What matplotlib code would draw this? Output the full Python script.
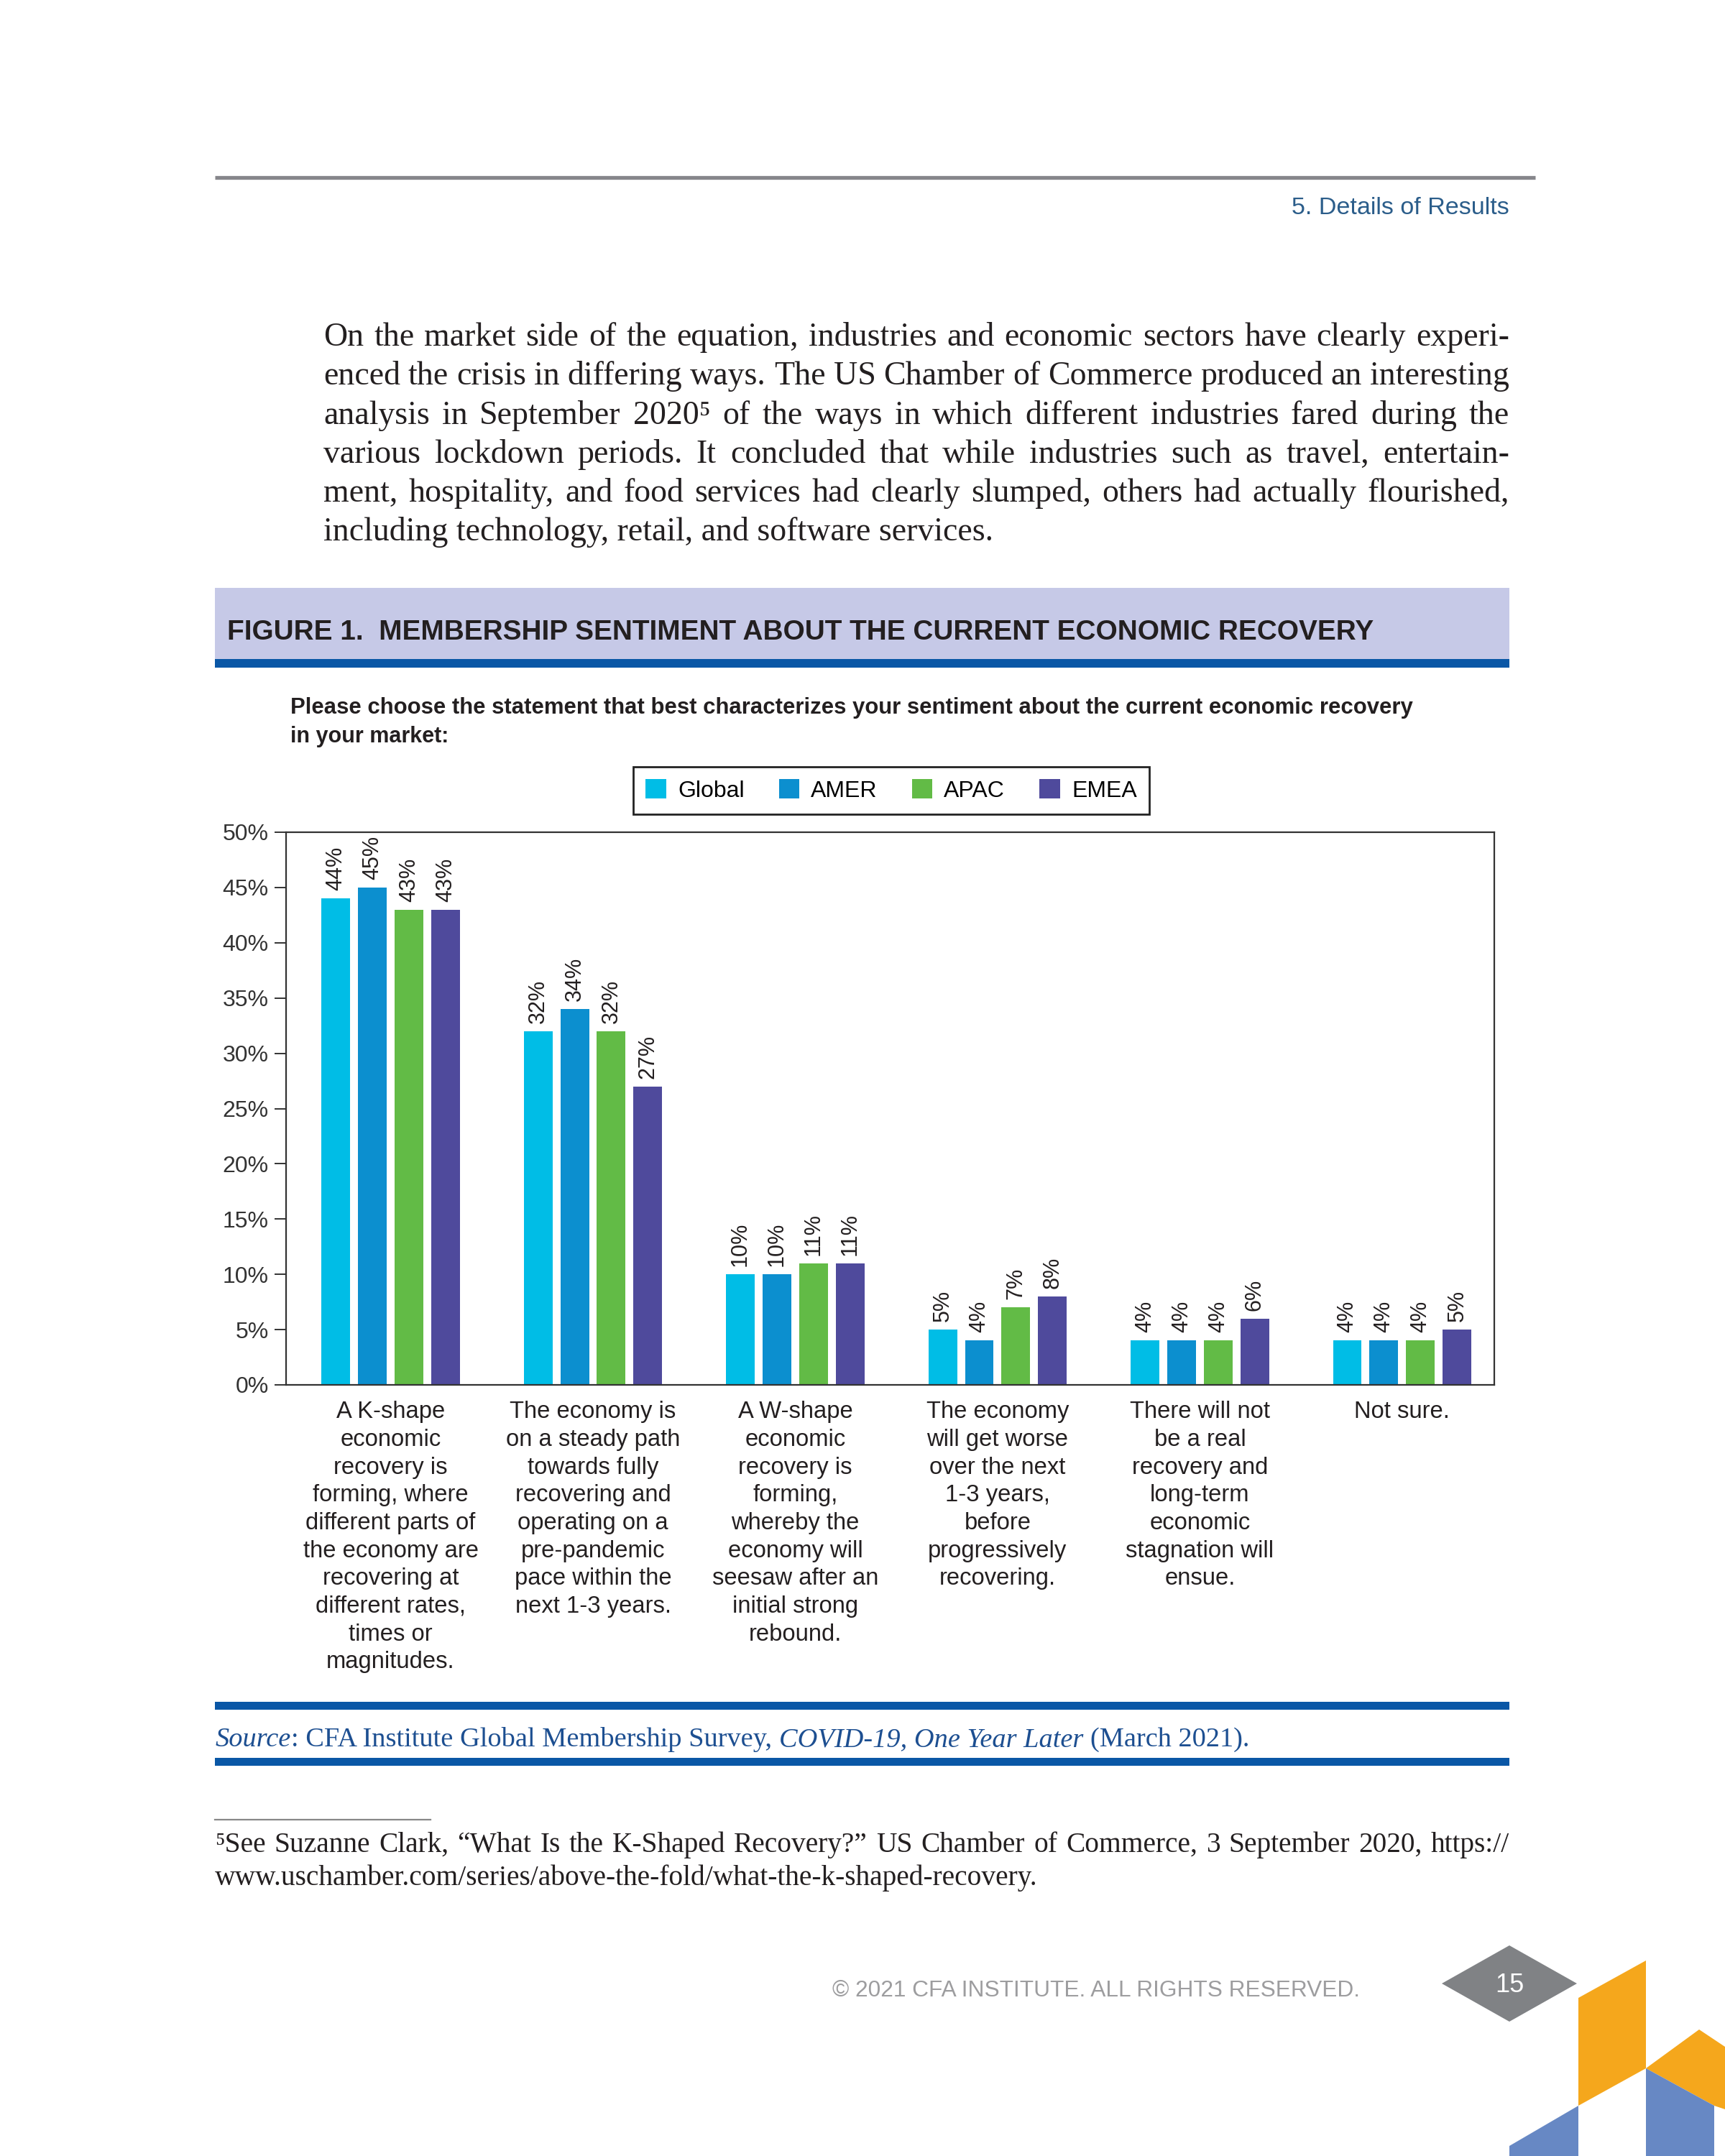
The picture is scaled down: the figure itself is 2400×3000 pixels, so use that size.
import matplotlib.pyplot as plt
from matplotlib.patches import Polygon, Rectangle
import numpy as np

# survey data (percent)
categories = [
    "A K-shape\neconomic\nrecovery is\nforming, where\ndifferent parts of\nthe economy are\nrecovering at\ndifferent rates,\ntimes or\nmagnitudes.",
    "The economy is\non a steady path\ntowards fully\nrecovering and\noperating on a\npre-pandemic\npace within the\nnext 1-3 years.",
    "A W-shape\neconomic\nrecovery is\nforming,\nwhereby the\neconomy will\nseesaw after an\ninitial strong\nrebound.",
    "The economy\nwill get worse\nover the next\n1-3 years,\nbefore\nprogressively\nrecovering.",
    "There will not\nbe a real\nrecovery and\nlong-term\neconomic\nstagnation will\nensue.",
    "Not sure.",
]
regions = ["Global", "AMER", "APAC", "EMEA"]
global_vals = [44, 32, 10, 5, 4, 4]
amer_vals = [45, 34, 10, 4, 4, 4]
apac_vals = [43, 32, 11, 7, 4, 4]
emea_vals = [43, 27, 11, 8, 6, 5]
yticks = [0, 5, 10, 15, 20, 25, 30, 35, 40, 45, 50]

body_lines = [
    "On the market side of the equation, industries and economic sectors have clearly experi-",
    "enced the crisis in differing ways. The US Chamber of Commerce produced an interesting",
    "analysis in September 2020\u2075 of the ways in which different industries fared during the",
    "various lockdown periods. It concluded that while industries such as travel, entertain-",
    "ment, hospitality, and food services had clearly slumped, others had actually flourished,",
    "including technology, retail, and software services.",
]
foot_lines = [
    "\u2075See Suzanne Clark, \u201cWhat Is the K-Shaped Recovery?\u201d US Chamber of Commerce, 3 September 2020, https://",
    "www.uschamber.com/series/above-the-fold/what-the-k-shaped-recovery.",
]

colors = ["#00bde6", "#0c8fcf", "#62bb46", "#4f4a9c"]
SERIF = ["Liberation Serif", "DejaVu Serif"]
NARROW = ["Liberation Sans Narrow", "Liberation Sans", "DejaVu Sans"]
SANS = ["Liberation Sans", "DejaVu Sans"]
INK = "#231f20"

W, H = 2400, 3000
fig = plt.figure(figsize=(12, 15), dpi=200)
r = fig.canvas.get_renderer()

# page layer, data units = pixels
bg = fig.add_axes([0, 0, 1, 1])
bg.set_xlim(0, W)
bg.set_ylim(H, 0)
bg.axis("off")


def width(s, **kw):
    t = bg.text(0, 0, s, **kw)
    w = t.get_window_extent(r).width
    t.remove()
    return w


def put(x, y, s, fit=None, **kw):
    t = bg.text(x, y, s, **kw)
    if fit:
        w = t.get_window_extent(r).width
        t.set_fontsize(t.get_fontsize() * fit / w)
    return t


def justify(x0, x1, y, line, **kw):
    words = line.split()
    ws = [width(w_, **kw) for w_ in words]
    gap = (x1 - x0 - sum(ws)) / (len(words) - 1)
    x = x0
    for w_, wd in zip(words, ws):
        bg.text(x, y, w_, va="baseline", **kw)
        x += wd + gap


def run(x, y, pieces, **kw):
    sp = width("a a", **kw) - width("aa", **kw)
    for s, style in pieces:
        if s.startswith(" "):
            x += sp
            s = s[1:]
        t = bg.text(x, y, s, va="baseline", fontstyle=style, **kw)
        x += t.get_window_extent(r).width


# header
bg.plot([299, 2136], [247, 247], color="#86868b", lw=1.9, solid_capstyle="butt")
put(2100, 298, "5. Details of Results", fit=303, ha="right", va="baseline",
    family=NARROW, fontsize=13, color="#2b5d8a")

# body paragraph
for i, line in enumerate(body_lines):
    y = 481 + i * 54.3
    if i < len(body_lines) - 1:
        justify(450, 2100, y, line, family=SERIF, fontsize=16.5, color=INK)
    else:
        bg.text(450, y, line, va="baseline", family=SERIF, fontsize=16.5, color=INK)

# figure title band
bg.add_patch(Rectangle((299, 818), 1801, 99, color="#c6c9e7", lw=0))
bg.add_patch(Rectangle((299, 917), 1801, 12, color="#0a57a6", lw=0))
put(316, 890, "FIGURE 1.  MEMBERSHIP SENTIMENT ABOUT THE CURRENT ECONOMIC RECOVERY",
    fit=1598, va="baseline", family=NARROW, fontweight="bold", fontsize=16, color=INK)

# question
put(404, 993, "Please choose the statement that best characterizes your sentiment about the current economic recovery",
    fit=1562, va="baseline", family=NARROW, fontweight="bold", fontsize=11, color=INK)
bg.text(404, 1033, "in your market:", va="baseline", family=NARROW, fontweight="bold",
        fontsize=11, color=INK)

# chart
ax = fig.add_axes([398 / W, 1 - 1927 / H, (2079 - 398) / W, (1927 - 1158) / H])
x = np.arange(len(categories))
step, bw = 0.181, 0.142
series = [global_vals, amer_vals, apac_vals, emea_vals]
bars = []
for k, (vals, name, c) in enumerate(zip(series, regions, colors)):
    b = ax.bar(x + (k - 1.5) * step, vals, bw, color=c, label=name, zorder=2)
    bars.append(b)
    for xi, v in zip(x + (k - 1.5) * step, vals):
        ax.annotate(f"{v}%", (xi, v), xytext=(0, 4), textcoords="offset points",
                    rotation=90, ha="center", va="bottom", family=SANS,
                    fontsize=11, color=INK)
ax.set_xlim(-0.517, 5.455)
ax.set_ylim(0, 50)
ax.set_yticks(yticks, [f"{t}%" for t in yticks], family=SANS, fontsize=11.5, color="#333333")
ax.set_xticks(x, categories, family=SANS, fontsize=11.8, color=INK, linespacing=1.32, va="top")
ax.tick_params(axis="y", length=5.8, width=0.7, color="#333333", pad=3)
ax.tick_params(axis="x", length=0, pad=8)
for s in ax.spines.values():
    s.set_color("#333333")
    s.set_linewidth(0.8)

leg = fig.legend(handles=bars, loc="center", bbox_to_anchor=(1240 / W, 1 - 1100 / H), ncol=4,
                 prop={"family": SANS, "size": 11.5}, handlelength=0.9, handleheight=0.9,
                 handletextpad=0.5, columnspacing=1.5, borderpad=0.55, fancybox=False,
                 edgecolor="#222222", framealpha=1)
leg.get_frame().set_linewidth(1.0)

# source band
bg.add_patch(Rectangle((299, 2368), 1801, 11, color="#0a57a6", lw=0))
bg.add_patch(Rectangle((299, 2446), 1801, 11, color="#0a57a6", lw=0))
run(300, 2430, [("Source", "italic"), (": CFA Institute Global Membership Survey,", "normal"),
                (" COVID-19, One Year Later", "italic"), (" (March 2021).", "normal")],
    family=SERIF, fontsize=13.8, color="#1d4f91")

# footnote
bg.plot([299, 599], [2532, 2532], color="#888888", lw=0.8)
justify(299, 2100, 2577, foot_lines[0], family=SERIF, fontsize=14.2, color=INK)
bg.text(299, 2623, foot_lines[1], va="baseline", family=SERIF, fontsize=14.2, color=INK)

# footer
put(1158, 2778, "\u00a9 2021 CFA INSTITUTE. ALL RIGHTS RESERVED.", fit=734, va="baseline",
    family=NARROW, fontsize=13, color="#9d9d9f")
bg.add_patch(Polygon([(2006, 2760), (2100, 2707), (2194, 2760), (2100, 2813)],
                     closed=True, color="#808285", lw=0))
bg.text(2100, 2762, "15", ha="center", va="center", family=NARROW, fontsize=13, color="white")

# corner decoration
orange, blue = "#f5a71c", "#6788c4"
bg.add_patch(Polygon([(2196, 2780), (2290, 2728), (2290, 2878), (2196, 2930)], color=orange, lw=0))
bg.add_patch(Polygon([(2290, 2878), (2364, 2824), (2400, 2848), (2400, 2935), (2385, 2930)],
                     color=orange, lw=0))
bg.add_patch(Polygon([(2196, 2930), (2100, 2986), (2100, 3000), (2196, 3000)], color=blue, lw=0))
bg.add_patch(Polygon([(2290, 2878), (2385, 2930), (2385, 3000), (2290, 3000)], color=blue, lw=0))

fig.savefig("out.png", dpi=200, facecolor="white")
